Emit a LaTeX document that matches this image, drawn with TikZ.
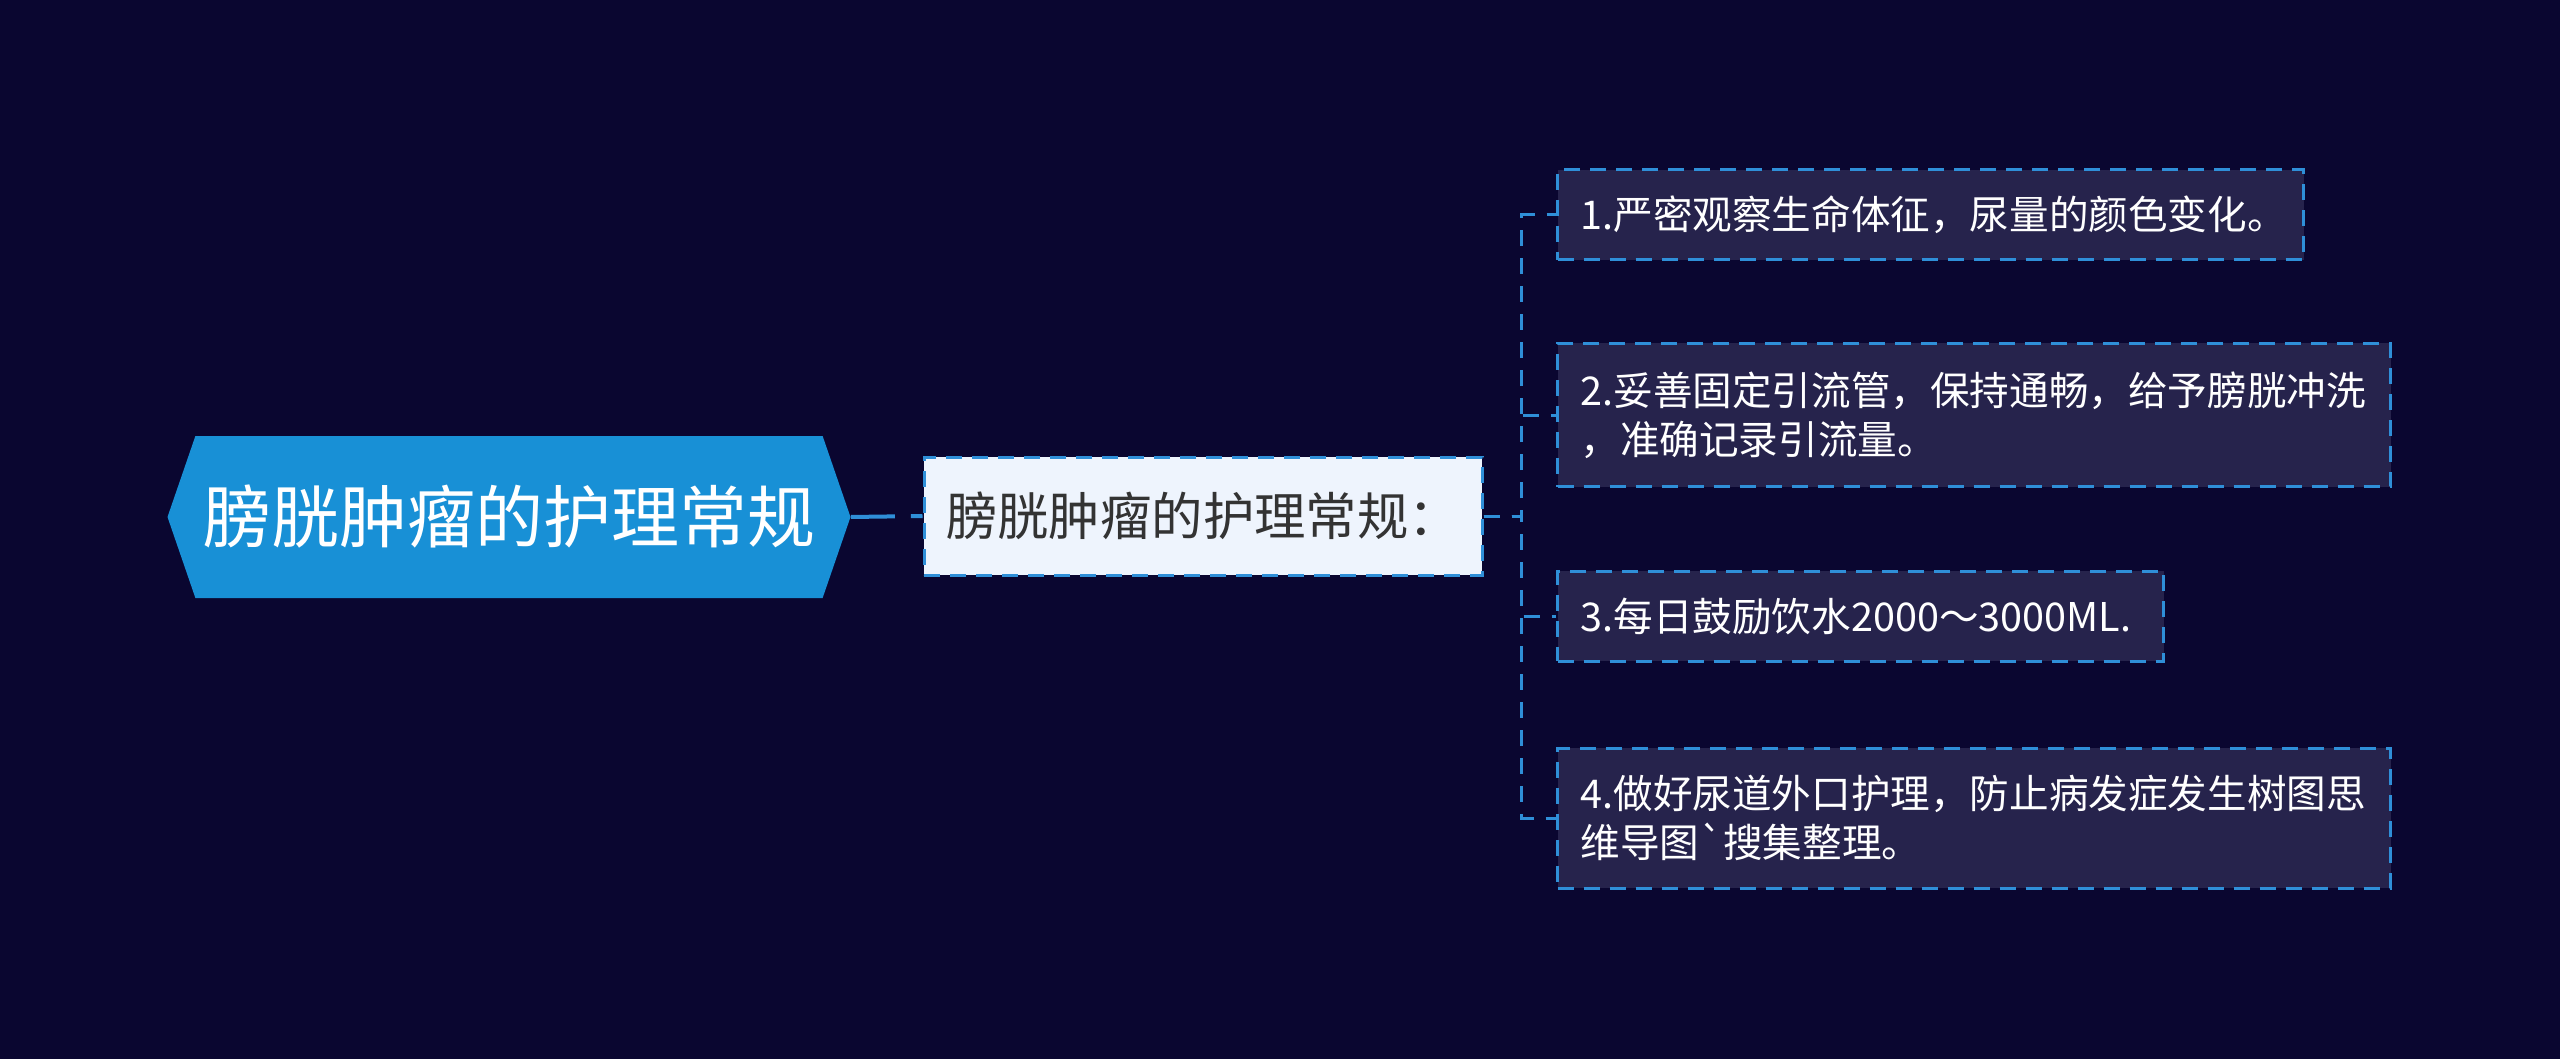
\documentclass[tikz,border=0pt]{standalone}
\usepackage{fontspec}
\setmainfont{Noto Sans CJK SC}
\usetikzlibrary{shapes.symbols,calc}

\definecolor{bgnavy}{HTML}{0A0630}
\definecolor{rootblue}{HTML}{1890D6}
\definecolor{linkblue}{HTML}{2F8FD8}
\definecolor{subfill}{HTML}{EEF4FD}
\definecolor{leaffill}{HTML}{26234C}
\definecolor{subtext}{HTML}{333333}

\begin{document}
\begin{tikzpicture}[x=0.5pt,y=-0.5pt,
  rootnode/.style={shape=signal,signal to=west and east,signal pointer angle=142,fill=rootblue,text=white,
    font=\fontsize{34}{40}\selectfont,minimum height=81pt,minimum width=341.5pt,inner sep=0pt},
  subnode/.style={draw=linkblue,line width=1.5pt,dash pattern=on 8pt off 5pt,fill=subfill,text=subtext,
    font=\fontsize{25.7}{30}\selectfont,minimum width=279pt,minimum height=59pt,inner sep=0pt},
  leaf/.style={anchor=west,draw=linkblue,line width=1.5pt,dash pattern=on 8pt off 5pt,fill=leaffill,text=white,
    font=\fontsize{19.8}{24.5}\selectfont,align=left,inner xsep=11.5pt,inner ysep=0pt},
  link/.style={draw=linkblue,line width=1.5pt,dash pattern=on 8pt off 6pt}]

\fill[bgnavy] (0,0) rectangle (2560,1059);
\useasboundingbox (0,0) rectangle (2560,1059);

\node[rootnode] (root) at (509,517) {膀胱肿瘤的护理常规};
\node[subnode] (sub) at (1203,516) {膀胱肿瘤的护理常规：};

\node[leaf,text width=350pt,minimum height=45pt] (l1) at (1556,215) {1.严密观察生命体征，尿量的颜色变化。};
\node[leaf,text width=393.5pt,minimum height=71.5pt] (l2) at (1556,415) {2.妥善固定引流管，保持通畅，给予膀胱冲洗\\，准确记录引流量。};
\node[leaf,text width=280pt,minimum height=45pt] (l3) at (1556,616) {3.每日鼓励饮水2000～3000ML.};
\node[leaf,text width=393.5pt,minimum height=70pt] (l4) at (1556,818) {4.做好尿道外口护理，防止病发症发生树图思\\维导图\textasciigrave 搜集整理。};

\draw[draw=linkblue,line width=2pt,dash pattern=on 22pt off 8pt on 10pt off 0pt] (root.east) -- (sub.west);

\coordinate (fork) at ($(sub.east)+(19pt,0)$);
\foreach \leafnode in {l1,l2,l3,l4}
  \draw[link] (sub.east) -- (fork) |- (\leafnode.west);

\end{tikzpicture}
\end{document}
